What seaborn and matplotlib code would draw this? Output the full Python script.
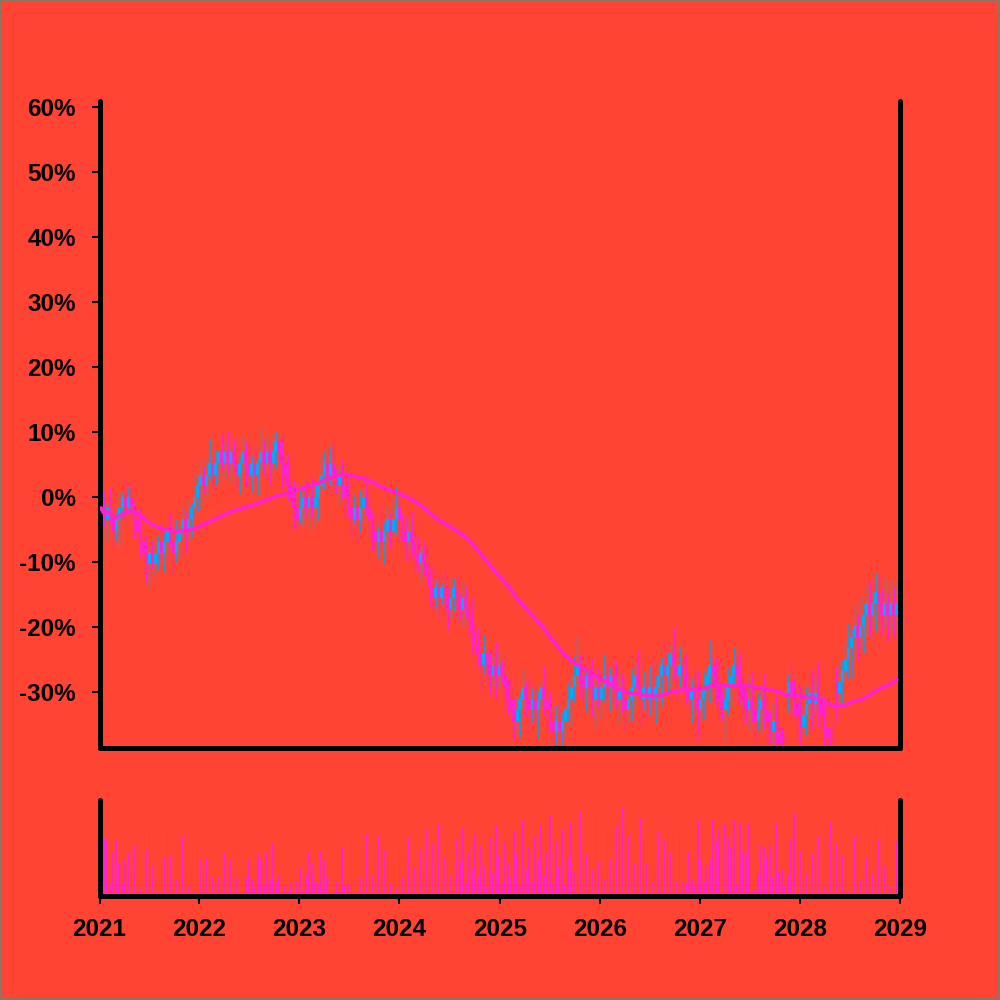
import pandas as pd
import seaborn as sns
import matplotlib.pyplot as plt
import matplotlib.dates as mdates
from matplotlib.ticker import FuncFormatter

BG = "#FF4433"
UP = "#08A8F8"
DOWN = "#FF22CC"
UP_WICK = "#3A8EC8"

# closes, % change
close_pct = [
    -1.7, -3.4, -1.7, -3.4, -5.2, -3.4, -1.7, 0.0, -1.7, 0.0,
    -1.7, -3.4, -5.2, -6.9, -8.6, -10.3, -8.6, -10.3, -8.6, -6.9,
    -8.6, -6.9, -5.2, -6.9, -8.6, -6.9, -5.2, -3.4, -5.2, -3.4,
    -1.7, 0.0, 1.7, 3.4, 1.7, 3.4, 5.2, 3.4, 5.2, 6.9,
    5.2, 6.9, 5.2, 6.9, 5.2, 3.4, 5.2, 6.9, 5.2, 3.4,
    5.2, 3.4, 5.2, 6.9, 5.2, 6.9, 5.2, 6.9, 8.6, 6.9,
    5.2, 3.4, 1.7, 0.0, -1.7, -3.4, -1.7, 0.0, -1.7, 0.0,
    -1.7, 0.0, 1.7, 3.4, 5.2, 3.4, 5.2, 3.4, 1.7, 3.4,
    1.7, 0.0, -1.7, -3.4, -1.7, -3.4, -1.7, 0.0, -1.7, -3.4,
    -5.2, -6.9, -5.2, -6.9, -5.2, -3.4, -5.2, -3.4, -1.7, -3.4,
    -5.2, -6.9, -5.2, -6.9, -8.6, -10.3, -8.6, -10.3, -12.0, -13.8,
    -15.5, -13.8, -15.5, -13.8, -15.5, -17.2, -15.5, -13.8, -15.5, -17.2,
    -15.5, -17.2, -18.9, -20.6, -22.4, -24.1, -25.8, -24.1, -25.8, -27.5,
    -25.8, -27.5, -25.8, -27.5, -29.2, -31.0, -32.7, -34.4, -32.7, -31.0,
    -29.2, -31.0, -32.7, -31.0, -32.7, -31.0, -29.2, -31.0, -32.7, -34.4,
    -36.1, -34.4, -36.1, -34.4, -32.7, -31.0, -29.2, -27.5, -25.8, -27.5,
    -29.2, -27.5, -29.2, -31.0, -29.2, -31.0, -29.2, -27.5, -29.2, -27.5,
    -29.2, -31.0, -29.2, -31.0, -32.7, -31.0, -29.2, -27.5, -29.2, -31.0,
    -29.2, -31.0, -29.2, -31.0, -29.2, -27.5, -25.8, -27.5, -25.8, -24.1,
    -25.8, -27.5, -25.8, -27.5, -29.2, -31.0, -29.2, -31.0, -32.7, -31.0,
    -29.2, -27.5, -25.8, -27.5, -29.2, -31.0, -32.7, -31.0, -29.2, -27.5,
    -25.8, -27.5, -29.2, -31.0, -32.7, -31.0, -32.7, -34.4, -32.7, -31.0,
    -32.7, -34.4, -36.1, -34.4, -36.1, -37.8, -39.6, -41.3, -28.4, -30.1,
    -31.8, -33.5, -35.3, -33.5, -31.8, -30.1, -31.8, -30.1, -31.8, -33.5,
    -35.3, -37.0, -38.7, -40.4, -30.1, -28.4, -26.7, -24.9, -23.2, -21.5,
    -19.8, -21.5, -19.8, -18.1, -16.3, -18.1, -16.3, -14.6, -16.3, -18.1,
    -16.3, -18.1, -16.3, -18.1, -16.3,
]
first_open = -3.4
open_gaps = {228: -30.1, 244: -28.4}

wick_up = [
    1.4, 2.6, 0.8, 3.2, 1.9, 1.1, 2.4, 0.6, 3.0, 1.5,
    2.2, 0.9, 1.7, 3.4, 1.2, 2.8, 0.7, 1.9, 2.5, 1.0,
    3.1, 1.4, 0.6, 2.7, 1.8, 3.5, 0.9, 2.1, 1.3, 2.9,
    0.8, 3.7, 1.6, 2.3, 1.0, 2.6, 3.9, 1.2, 2.0, 0.7,
    2.8, 1.5, 3.3, 0.9, 2.2, 3.6, 1.1, 2.5, 1.7, 3.0,
    1.3, 2.7, 0.8, 3.8, 1.9, 2.4, 1.0, 2.9, 1.6, 0.9,
    2.1, 1.4, 3.2, 0.7, 2.6, 1.8, 3.4, 1.2, 2.3, 0.8,
    2.9, 1.5, 0.6, 3.1, 2.0, 1.1, 2.7, 3.5, 0.9, 1.7,
    2.4, 1.0, 3.0, 1.6, 2.2, 0.7, 2.8, 1.3, 3.3, 1.9,
    1.1, 2.5, 0.8, 3.6, 1.4, 2.1, 1.0, 2.9, 3.2, 1.5,
    0.9, 2.3, 1.7, 3.0, 1.2, 2.6, 0.7, 1.9, 2.8, 1.4,
    3.4, 1.0, 2.2, 0.8, 2.7, 1.6, 3.1, 1.3, 2.0, 0.9,
    2.5, 1.8, 0.6, 3.3, 1.5, 2.4, 1.1, 2.9, 0.8, 2.1,
    1.4, 3.7, 1.9, 0.7, 2.6, 1.2, 3.0, 1.7, 2.3, 1.0,
    2.8, 0.9, 3.5, 1.6, 2.2, 1.3, 0.8, 3.2, 1.9, 2.7,
    1.1, 2.4, 3.8, 1.4, 0.9, 2.6, 1.8, 3.1, 4.2, 1.5,
    3.6, 1.2, 2.5, 4.4, 1.7, 2.9, 1.0, 3.3, 2.1, 1.4,
    2.7, 4.0, 1.6, 2.2, 3.5, 1.1, 2.8, 1.9, 3.9, 1.3,
    2.4, 1.0, 3.2, 4.6, 1.8, 2.6, 1.2, 3.7, 2.0, 1.5,
    4.1, 1.7, 2.9, 1.1, 3.4, 2.3, 1.4, 3.0, 4.3, 1.9,
    2.5, 1.2, 3.8, 1.6, 2.7, 4.5, 1.3, 2.2, 3.1, 1.0,
    2.8, 1.5, 3.6, 2.0, 1.1, 3.3, 4.2, 1.8, 2.6, 1.4,
    3.9, 2.1, 1.3, 2.9, 4.0, 1.6, 2.4, 3.5, 1.2, 2.7,
    1.9, 3.2, 4.4, 1.4, 2.8, 1.0, 3.7, 2.2, 4.8, 1.6,
    2.9, 3.4, 1.5, 4.1, 2.3, 3.0, 1.7, 2.6, 3.8, 1.2,
    3.3, 2.0, 4.6, 1.8, 2.7, 3.5, 1.4, 2.9, 3.1, 2.2,
    4.0, 1.6, 3.4, 2.5, 3.9,
]

wick_down = [
    2.0, 1.1, 3.3, 0.8, 2.5, 1.6, 3.9, 1.2, 2.2, 0.9,
    1.7, 3.0, 1.0, 2.4, 1.3, 2.8, 3.5, 0.7, 1.9, 2.6,
    1.2, 2.9, 1.8, 0.8, 3.2, 1.4, 2.3, 1.0, 3.6, 1.5,
    2.7, 0.9, 2.1, 3.4, 1.3, 1.9, 0.7, 2.8, 1.6, 3.1,
    1.0, 2.4, 1.5, 3.0, 0.8, 2.2, 2.9, 1.3, 3.5, 1.8,
    2.6, 0.9, 3.1, 1.4, 2.0, 0.7, 3.3, 1.7, 2.5, 1.1,
    3.8, 1.6, 2.3, 1.0, 3.0, 1.9, 0.8, 2.7, 1.4, 3.2,
    1.3, 2.6, 3.5, 0.9, 2.1, 3.0, 1.5, 2.4, 1.1, 2.8,
    2.0, 3.3, 1.2, 2.7, 0.8, 3.6, 1.8, 2.2, 1.0, 2.9,
    3.1, 1.4, 2.5, 1.0, 3.4, 1.7, 2.8, 0.9, 2.3, 3.7,
    1.6, 2.9, 1.1, 2.4, 3.2, 1.3, 2.7, 1.9, 0.8, 3.0,
    2.2, 1.5, 3.6, 1.0, 2.6, 3.3, 1.4, 2.0, 3.9, 1.7,
    2.8, 1.2, 2.4, 3.5, 1.6, 2.1, 4.0, 1.3, 2.7, 3.1,
    1.8, 3.4, 2.2, 1.1, 3.7, 2.5, 1.4, 3.0, 2.0, 4.2,
    1.5, 2.9, 3.8, 1.9, 2.4, 4.4, 1.2, 2.6, 3.3, 1.7,
    3.0, 2.1, 1.4, 3.6, 2.7, 1.8, 4.1, 2.3, 1.5, 3.4,
    2.0, 3.9, 1.6, 2.8, 4.5, 1.3, 3.2, 2.4, 1.9, 3.7,
    2.6, 1.4, 4.0, 2.2, 3.1, 1.7, 3.5, 2.9, 1.2, 4.3,
    1.8, 3.3, 2.5, 1.5, 3.8, 2.1, 4.6, 1.6, 2.8, 3.4,
    2.3, 4.1, 1.9, 3.0, 2.6, 1.4, 3.7, 2.2, 4.4, 1.7,
    3.2, 2.0, 4.2, 1.6, 2.9, 3.5, 1.8, 4.7, 2.4, 3.1,
    1.5, 3.9, 2.7, 4.3, 1.9, 3.3, 2.1, 4.0, 1.4, 3.6,
    2.8, 4.5, 1.7, 3.0, 2.5, 3.8, 1.6, 4.2, 2.9, 3.4,
    2.2, 3.7, 4.9, 1.8, 3.1, 2.4, 4.1, 1.5, 3.5, 2.7,
    4.0, 1.9, 3.3, 2.6, 4.4, 2.1, 3.8, 1.7, 3.0, 4.6,
    2.3, 3.6, 1.8, 4.2, 2.9, 3.4, 2.0, 4.5, 2.6, 3.1,
    1.9, 4.0, 2.7, 3.5, 2.2,
]

volume = [
    40, 61, 59, 12, 47, 58, 34, 14, 37, 46,
    31, 53, 61, 8, 4, 49, 72, 31, 17, 5,
    34, 41, 65, 42, 8, 17, 57, 64, 59, 10,
    27, 5, 56, 37, 29, 41, 44, 19, 24, 19,
    8, 44, 5, 37, 31, 20, 3, 2, 20, 37,
    17, 8, 45, 39, 10, 46, 17, 55, 15, 22,
    3, 10, 5, 14, 3, 15, 29, 5, 22, 46,
    34, 15, 12, 47, 39, 19, 3, 2, 15, 5,
    51, 10, 14, 59, 3, 12, 20, 51, 66, 29,
    22, 47, 63, 53, 49, 45,
    12, 35, 8, 52, 20, 44, 61, 15, 30, 9,
    48, 26, 70, 18, 55, 33, 76, 12, 40, 63,
    22, 8, 58, 36, 71, 14, 47, 28, 66, 19,
    52, 31, 9, 60, 24, 74, 42, 13, 57, 35,
    20, 68, 45, 11, 79, 27, 50, 16, 62, 38,
    73, 21, 46, 84, 14, 56, 30, 69, 10, 41,
    77, 25, 53, 88, 17, 44, 65, 28, 82, 36,
    29, 17, 66, 37, 29, 73, 85, 92, 80, 63,
    20, 34, 37, 81, 59, 33, 15, 15, 24, 68,
    41, 58, 68, 46, 72, 15, 61, 15, 14, 47,
    17, 10, 79, 39, 15, 32, 37, 80, 56, 69,
    3, 76, 64, 51, 80, 12, 75, 46, 44, 76,
    5, 7, 24, 53, 51, 41, 53, 20, 75, 25,
    27, 10, 22, 59, 86, 7, 46, 49, 24, 5,
    44, 37, 63, 7, 10, 75, 78, 56, 54, 22,
    42, 42, 5, 5, 64, 71, 17, 19, 41, 66,
    24, 73, 58, 32, 31, 73, 10, 19, 56,
]

start_date = "2021-01-07"
step_days = 11
ma_window = 50

dates = pd.date_range(start_date, periods=len(close_pct), freq=f"{step_days}D")
df = pd.DataFrame({"date": dates, "close": close_pct})
df["open"] = [first_open] + close_pct[:-1]
for i, v in open_gaps.items():
    df.loc[i, "open"] = v
body_top = df[["open", "close"]].max(axis=1)
body_bot = df[["open", "close"]].min(axis=1)
df["high"] = body_top + pd.Series(wick_up)
df["low"] = body_bot - pd.Series(wick_down)
df["volume"] = volume
df["ma"] = df["close"].rolling(ma_window, min_periods=1).mean()
up = df["close"] >= df["open"]
rise = df[up]
fall = df[~up]

sns.set_style("ticks")
plt.rcParams["font.family"] = ["Liberation Sans", "DejaVu Sans"]
plt.rcParams["font.weight"] = "bold"

fig = plt.figure(figsize=(10, 10), dpi=100, facecolor=BG)
fig.patch.set_edgecolor("#8c7466")
fig.patch.set_linewidth(1.5)
ax = fig.add_axes([0.0995, 0.252, 0.8005, 0.6475])
axv = fig.add_axes([0.0995, 0.104, 0.8005, 0.096])

# candles: wicks first, bodies on top
ax.vlines(rise["date"], rise["low"], rise["high"], color=UP_WICK, lw=1.0, zorder=1)
ax.vlines(fall["date"], fall["low"], fall["high"], color=DOWN, lw=1.0, zorder=1)
ax.bar(rise["date"], rise["close"] - rise["open"], bottom=rise["open"],
       width=12, color=UP, lw=0, zorder=2)
ax.bar(fall["date"], fall["open"] - fall["close"], bottom=fall["close"],
       width=12, color=DOWN, lw=0, zorder=2)
sns.lineplot(data=df, x="date", y="ma", ax=ax, color=DOWN, lw=2.8, zorder=3)

# volume
axv.bar(df["date"], df["volume"], width=5.5, color=DOWN, lw=0)

x0, x1 = pd.Timestamp("2021-01-01"), pd.Timestamp("2029-01-01")
for a in (ax, axv):
    a.set_facecolor(BG)
    a.set_xlim(x0, x1)
    a.set_xlabel("")
    a.set_ylabel("")
    a.spines["top"].set_visible(False)
    for side in ("left", "right", "bottom"):
        a.spines[side].set_linewidth(3.6)
        a.spines[side].set_color("black")
        a.spines[side].set_capstyle("round")

ax.set_ylim(-38.6, 61.0)
ax.set_yticks(range(-30, 61, 10))
ax.yaxis.set_major_formatter(FuncFormatter(lambda v, p: f"{v:.0f}%"))
ax.tick_params(axis="y", length=6, width=1.5, pad=11, labelsize=17.5, colors="black")
ax.tick_params(axis="x", bottom=False, labelbottom=False)

axv.set_ylim(0, 100)
axv.set_yticks([])
axv.xaxis.set_major_locator(mdates.YearLocator())
axv.xaxis.set_major_formatter(mdates.DateFormatter("%Y"))
axv.tick_params(axis="x", length=6, width=1.5, pad=10, labelsize=17.5, colors="black")

for lab in ax.get_yticklabels() + axv.get_xticklabels():
    lab.set_fontweight("bold")

fig.savefig("out.png", dpi=100, facecolor=BG, edgecolor=fig.patch.get_edgecolor())
